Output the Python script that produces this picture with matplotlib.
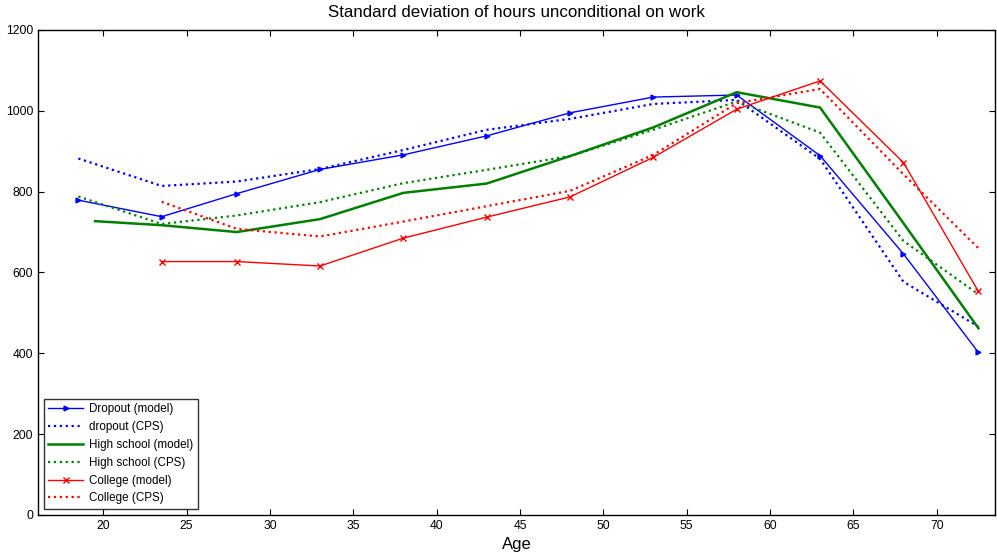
import numpy as np
from matplotlib import pyplot as plt

plt.rcParams['font.family'] = ['Liberation Sans', 'DejaVu Sans']

ages = [18.5, 23.5, 28, 33, 38, 43, 48, 53, 58, 63, 68, 72.5]
ages_hs_model = [19.5, 23.5, 28, 33, 38, 43, 48, 53, 58, 63, 68, 72.5]
ages_col = [23.5, 28, 33, 38, 43, 48, 53, 58, 63, 68, 72.5]

dropout_model = [779, 738, 795, 855, 891, 938, 995, 1034, 1039, 889, 646, 402]
dropout_cps = [882, 814, 825, 856, 903, 953, 980, 1017, 1027, 881, 577, 466]
hs_model = [727, 717, 700, 732, 797, 820, 888, 959, 1046, 1008, 722, 462]
hs_cps = [788, 720, 741, 774, 821, 854, 888, 953, 1023, 946, 678, 546]
col_model = [627, 627, 616, 685, 737, 787, 885, 1004, 1074, 872, 553]
col_cps = [775, 708, 689, 726, 764, 802, 891, 1019, 1054, 843, 660]

fig = plt.figure(figsize=(9.97, 5.58), dpi=100)
ax = fig.add_axes([0.0381, 0.0771, 0.96, 0.8692])

ax.plot(ages, dropout_model, color="#0000ff", lw=1, marker=">", ms=3.5, label="Dropout (model)")
ax.plot(ages, dropout_cps, color="#0000ff", lw=1.6, ls=":", label="dropout (CPS)")
ax.plot(ages_hs_model, hs_model, color="#008000", lw=1.8, label="High school (model)")
ax.plot(ages, hs_cps, color="#008000", lw=1.6, ls=":", label="High school (CPS)")
ax.plot(ages_col, col_model, color="#ff0000", lw=1, marker="x", ms=4, mew=1, label="College (model)")
ax.plot(ages_col, col_cps, color="#ff0000", lw=1.6, ls=":", label="College (CPS)")

ax.set_xlim(16.08, 73.5)
ax.set_ylim(0, 1200)
ax.set_xticks(np.arange(20, 71, 5))
ax.set_yticks(np.arange(0, 1201, 200))
ax.tick_params(direction="in", top=True, right=True, labelsize=8.7, length=4)
for s in ax.spines.values():
    s.set_linewidth(1)

ax.set_title("Standard deviation of hours unconditional on work", fontsize=12.2, pad=9)
ax.set_xlabel("Age", fontsize=12, labelpad=4)

leg = ax.legend(loc="lower left", fontsize=8.4, frameon=True, fancybox=False,
                edgecolor="black", handlelength=3.0, borderaxespad=0.5,
                labelspacing=0.5, handletextpad=0.5, borderpad=0.4)
leg.get_frame().set_linewidth(1)

fig.savefig("out.png", dpi=100)
